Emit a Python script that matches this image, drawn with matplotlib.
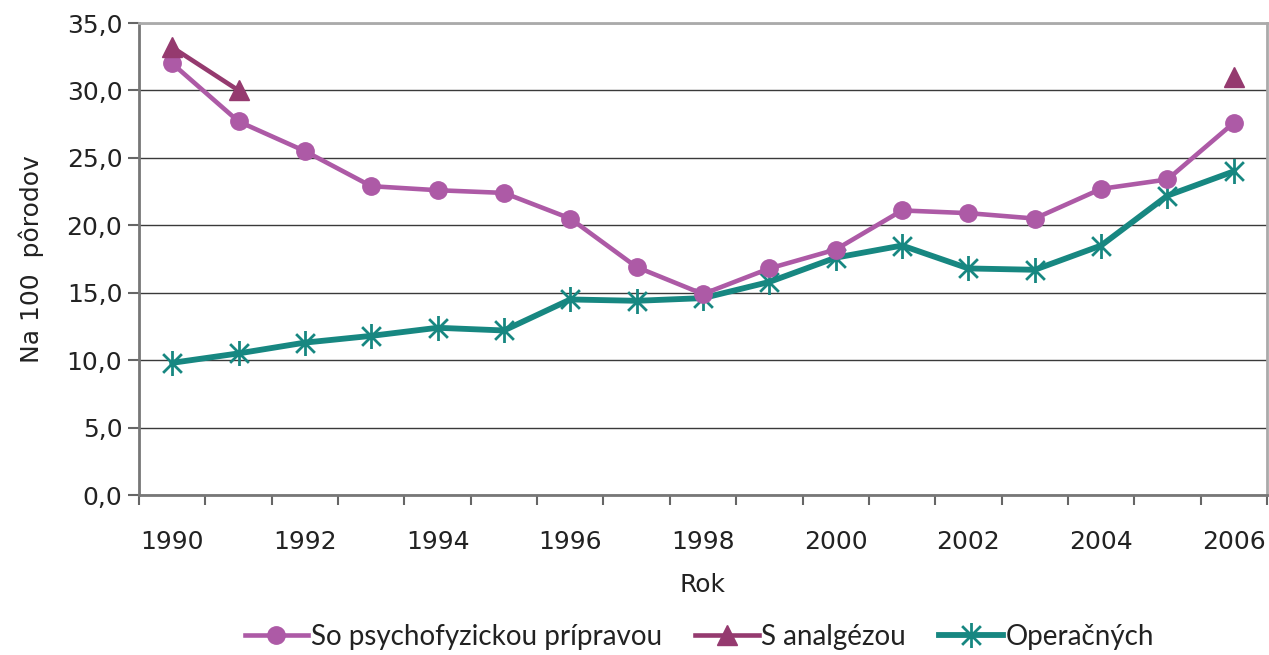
import matplotlib
matplotlib.use("Agg")
import matplotlib.pyplot as plt
import numpy as np
from matplotlib.path import Path

years = list(range(1990, 2007))
psycho = [32.0, 27.7, 25.5, 22.9, 22.6, 22.4, 20.5, 16.9, 14.9, 16.8, 18.2, 21.1, 20.9, 20.5, 22.7, 23.4, 27.6]
analg = [33.2, 30.0] + [np.nan] * 14 + [31.0]
operac = [9.8, 10.5, 11.3, 11.8, 12.4, 12.2, 14.5, 14.4, 14.6, 15.8, 17.6, 18.5, 16.8, 16.7, 18.5, 22.2, 24.0]
series_names = ["So psychofyzickou prípravou", "S analgézou", "Operačných"]
y_ticks = [0, 5, 10, 15, 20, 25, 30, 35]
y_label = "Na 100  pôrodov"
x_label = "Rok"

plt.rcParams['font.family'] = ['DejaVu Sans']

c_pink = "#AD5AA6"
c_dark = "#953A6F"
c_teal = "#178781"
txt = "#222222"

star = Path([(0, -1), (0, 1), (-0.75, -0.75), (0.75, 0.75), (-0.75, 0.75), (0.75, -0.75)],
            [Path.MOVETO, Path.LINETO, Path.MOVETO, Path.LINETO, Path.MOVETO, Path.LINETO])

fig = plt.figure(figsize=(12.69, 6.55), dpi=100)
ax = fig.add_axes([139/1269, 1 - 495/655, (1267-139)/1269, (495-23)/655])

x = np.arange(len(years))
ax.plot(x, psycho, color=c_pink, lw=3.3, marker='o', ms=12.5, zorder=3, label=series_names[0])
ax.plot(x, analg, color=c_dark, lw=3.3, marker='^', ms=15, zorder=4, label=series_names[1])
ax.plot(x, operac, color=c_teal, lw=4.2, marker=star, ms=18, mew=2, mfc='none', mec=c_teal, zorder=2, label=series_names[2])

ax.set_xlim(-0.5, len(years) - 0.5)
ax.set_ylim(0, 35)
ax.set_yticks(y_ticks)
ax.set_yticklabels([f"{v:.1f}".replace('.', ',') for v in y_ticks], fontsize=18, color=txt)
ax.set_xticks(x[::2])
ax.set_xticklabels([str(y) for y in years[::2]], fontsize=18, color=txt)
ax.set_xticks(np.arange(-0.5, len(years) + 0.5, 1), minor=True)
ax.tick_params(axis='x', which='major', length=0, pad=25)
ax.tick_params(axis='x', which='minor', length=7, width=1.5, color='#666666')
ax.tick_params(axis='y', length=8, width=1.5, color='#666666', pad=4)

ax.yaxis.grid(True, color='#3a3a3a', lw=1)
ax.set_axisbelow(True)
for s in ['left', 'bottom']:
    ax.spines[s].set_color('#777777')
    ax.spines[s].set_linewidth(2)
for s in ['top', 'right']:
    ax.spines[s].set_color('#aaaaaa')
    ax.spines[s].set_linewidth(2)

ax.set_ylabel(y_label, fontsize=18, color=txt, labelpad=16)
ax.set_xlabel(x_label, fontsize=18, color=txt, labelpad=14)

leg = fig.legend(loc='lower center', bbox_to_anchor=(0.551, -0.03), ncol=3, frameon=False,
                 prop={'family': ['Lato', 'DejaVu Sans'], 'size': 20},
                 handlelength=2.3, columnspacing=1.2, handletextpad=0.08)
for t in leg.get_texts():
    t.set_color(txt)

fig.savefig("out.png", dpi=100)
